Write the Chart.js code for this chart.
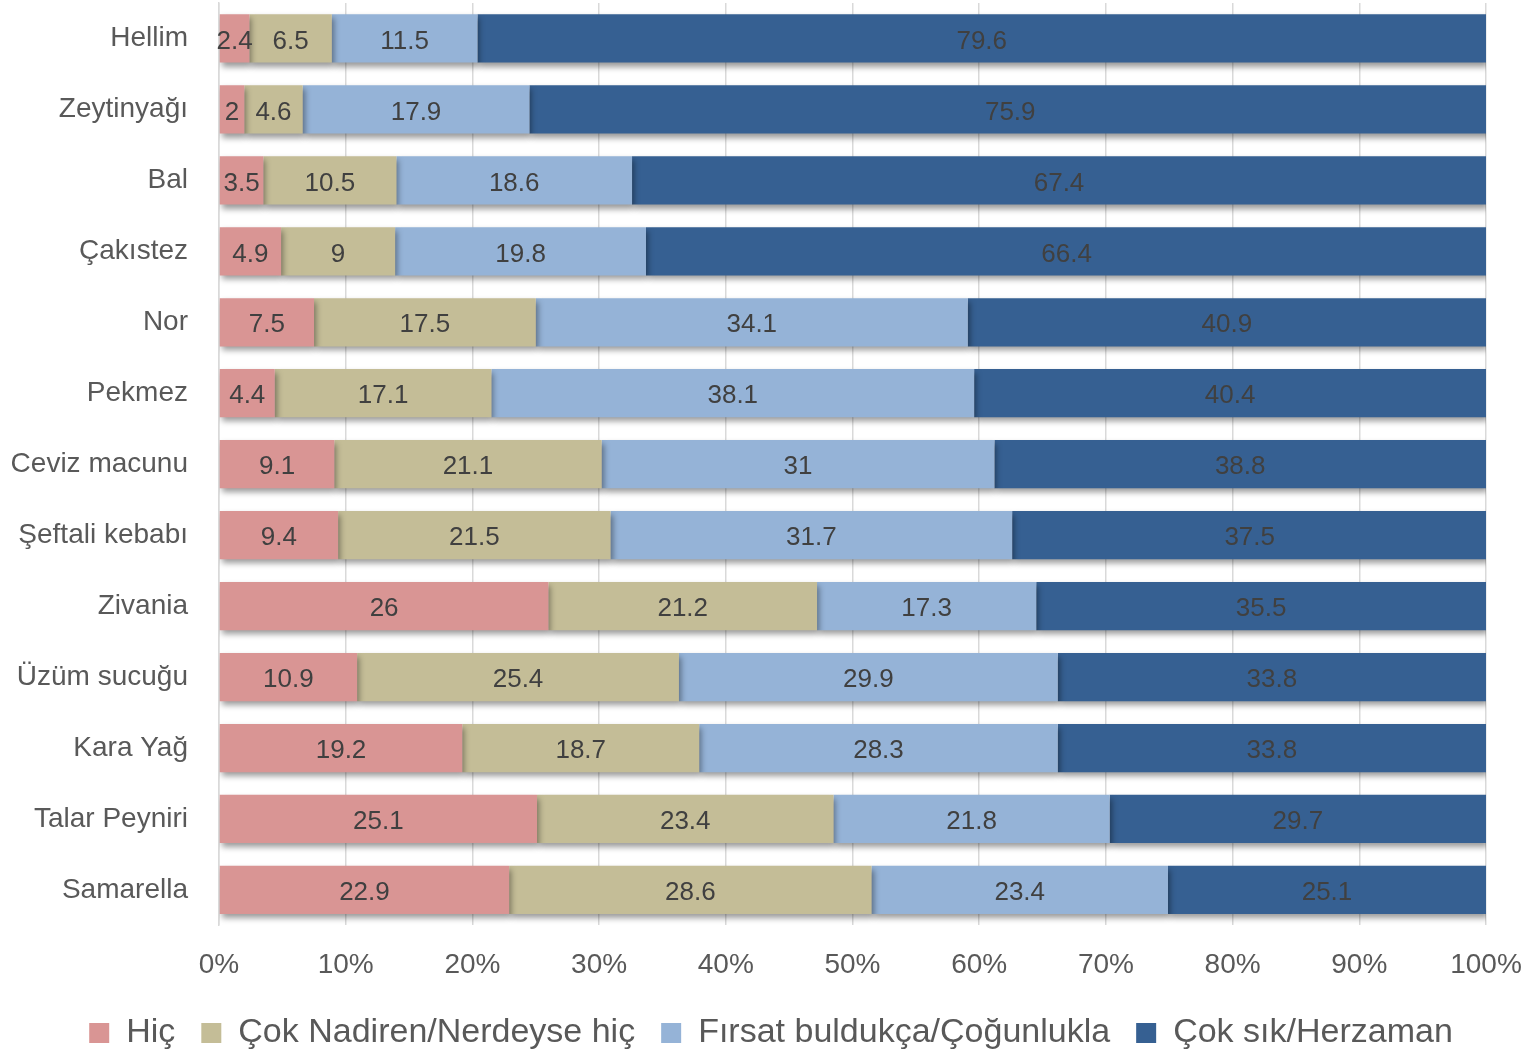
<!DOCTYPE html>
<html>
<head>
<meta charset="utf-8">
<script src="https://cdn.jsdelivr.net/npm/chart.js@4"></script>
<style>
  html, body { margin: 0; padding: 0; background: #fff; }
  #wrap { width: 1530px; height: 1052px; position: relative; }
</style>
</head>
<body>
<div id="wrap"><canvas id="chart"></canvas></div>
<script>
// Data
const categories = ['Hellim', 'Zeytinyağı', 'Bal', 'Çakıstez', 'Nor', 'Pekmez', 'Ceviz macunu',
    'Şeftali kebabı', 'Zivania', 'Üzüm sucuğu', 'Kara Yağ', 'Talar Peyniri', 'Samarella'];
const seriesNames = ['Hiç', 'Çok Nadiren/Nerdeyse hiç', 'Fırsat buldukça/Çoğunlukla', 'Çok sık/Herzaman'];
const hic       = [2.4, 2,   3.5,  4.9,  7.5,  4.4,  9.1,  9.4,  26,   10.9, 19.2, 25.1, 22.9];
const nadiren   = [6.5, 4.6, 10.5, 9,    17.5, 17.1, 21.1, 21.5, 21.2, 25.4, 18.7, 23.4, 28.6];
const firsat    = [11.5, 17.9, 18.6, 19.8, 34.1, 38.1, 31, 31.7, 17.3, 29.9, 28.3, 21.8, 23.4];
const herzaman  = [79.6, 75.9, 67.4, 66.4, 40.9, 40.4, 38.8, 37.5, 35.5, 33.8, 33.8, 29.7, 25.1];
const xTicks = [0, 10, 20, 30, 40, 50, 60, 70, 80, 90, 100];

const colors = ['#D99594', '#C4BD97', '#95B3D7', '#366092'];
const FONT = "'Liberation Sans', 'DejaVu Sans', sans-serif";

// Soft drop shadow on bars
const shadowPlugin = {
    id: 'barShadow',
    beforeDatasetDraw(chart) {
        const ctx = chart.ctx;
        ctx.save();
        ctx.shadowColor = 'rgba(0,0,0,0.4)';
        ctx.shadowBlur = 6;
        ctx.shadowOffsetX = 2;
        ctx.shadowOffsetY = 4;
    },
    afterDatasetDraw(chart) {
        chart.ctx.restore();
    }
};

// Value labels centred in each segment
const valueLabels = {
    id: 'valueLabels',
    afterDatasetsDraw(chart) {
        const ctx = chart.ctx;
        ctx.save();
        ctx.font = '26px ' + FONT;
        ctx.fillStyle = '#404040';
        ctx.textAlign = 'center';
        ctx.textBaseline = 'middle';
        chart.data.datasets.forEach((ds, i) => {
            const meta = chart.getDatasetMeta(i);
            meta.data.forEach((bar, j) => {
                const x = (bar.x + bar.base) / 2;
                ctx.fillText(String(ds.data[j]), x, bar.y + 3);
            });
        });
        ctx.restore();
    }
};

const datasets = [hic, nadiren, firsat, herzaman].map((d, i) => ({
    label: seriesNames[i],
    data: d,
    backgroundColor: colors[i],
    borderWidth: 0,
    barPercentage: 0.68,
    categoryPercentage: 1
}));

new Chart(document.getElementById('chart'), {
    type: 'bar',
    data: { labels: categories, datasets: datasets },
    options: {
        indexAxis: 'y',
        responsive: true,
        maintainAspectRatio: false,
        animation: false,
        layout: { padding: { left: 12, right: 0, top: 3, bottom: -8 } },
        plugins: {
            legend: {
                position: 'bottom',
                labels: {
                    boxWidth: 20,
                    boxHeight: 20,
                    padding: 26,
                    color: '#595959',
                    font: { size: 34, family: FONT }
                }
            },
            tooltip: { enabled: false }
        },
        scales: {
            x: {
                stacked: true,
                min: 0,
                max: 100,
                afterBuildTicks(scale) {
                    scale.ticks = xTicks.map(v => ({ value: v }));
                },
                afterFit(scale) {
                    scale.paddingLeft = 0;
                    scale.paddingRight = 44;
                    scale.height = scale.height - 15;
                },
                ticks: {
                    color: '#595959',
                    font: { size: 28, family: FONT },
                    padding: 23,
                    callback: v => v + '%'
                },
                grid: { color: '#D9D9D9', lineWidth: 1.5, drawTicks: false },
                border: { display: false }
            },
            y: {
                stacked: true,
                afterFit(scale) {
                    scale.width = 207;
                    scale.paddingTop = 0;
                    scale.paddingBottom = 0;
                },
                ticks: {
                    color: '#595959',
                    font: { size: 28, family: FONT },
                    padding: 31
                },
                grid: { display: false, drawTicks: false },
                border: { display: true, color: '#D9D9D9', width: 1.5 }
            }
        }
    },
    plugins: [shadowPlugin, valueLabels]
});
</script>
</body>
</html>
